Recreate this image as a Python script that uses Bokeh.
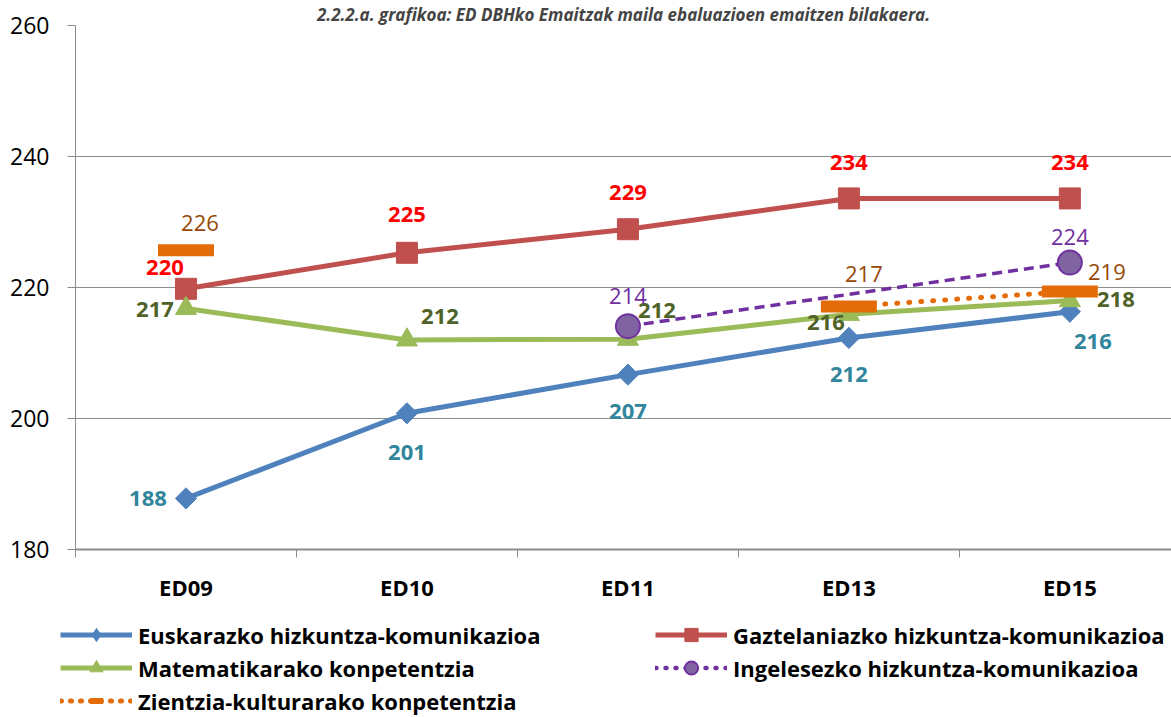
import math
from bokeh.plotting import figure
from bokeh.layouts import column
from bokeh.models import Range1d, FixedTicker, Legend, LegendItem, ColumnDataSource
from bokeh.core.properties import value
from bokeh.embed import file_html
from bokeh.resources import INLINE

nan = float("nan")

# ---- data ----
categories = ["ED09", "ED10", "ED11", "ED13", "ED15"]
euskara = [187.8, 200.8, 206.7, 212.3, 216.3]
gaztelania = [219.8, 225.3, 228.9, 233.6, 233.6]
matematika = [216.8, 212.0, 212.1, 215.9, 218.0]
ingelesa = [nan, nan, 214.1, nan, 223.8]
zientzia = [225.7, nan, nan, 217.1, 219.4]
y_ticks = [180, 200, 220, 240, 260]

title_text = "2.2.2.a. grafikoa: ED DBHko Emaitzak maila ebaluazioen emaitzen bilakaera."
names = ["Euskarazko hizkuntza-komunikazioa", "Gaztelaniazko hizkuntza-komunikazioa",
         "Matematikarako konpetentzia", "Ingelesezko hizkuntza-komunikazioa",
         "Zientzia-kulturarako konpetentzia"]

FONT = "Open Sans"
xs = list(range(len(categories)))

# series styles
STY = {
    "eu": dict(line=dict(line_color="#4F81BD", line_width=5),
               mark=dict(marker="square", angle=math.pi / 4, size=15,
                         fill_color="#4F81BD", line_color="#4F81BD")),
    "ga": dict(line=dict(line_color="#C0504D", line_width=5),
               mark=dict(marker="square", size=21, fill_color="#C0504D", line_color="#C0504D")),
    "ma": dict(line=dict(line_color="#9BBB59", line_width=5),
               mark=dict(marker="triangle", size=21, fill_color="#9BBB59", line_color="#9BBB59")),
    "in": dict(line=dict(line_color="#7030A0", line_width=3.5, line_dash="10 6"),
               mark=dict(marker="circle", size=24, fill_color="#8064A2",
                         line_color="#7030A0", line_width=2)),
    "zi": dict(line=dict(line_color="#E36C09", line_width=5, line_dash="1 11", line_cap="round"),
               mark=dict(marker="dash", size=56, line_width=12, line_color="#E36C09",
                         line_cap="butt")),
}
# legend sample styles (as in the reference legend)
LSTY = {
    "eu": dict(line=STY["eu"]["line"],
               mark=dict(marker="diamond", size=21, fill_color="#4F81BD", line_color="#4F81BD")),
    "ga": dict(line=STY["ga"]["line"], mark=dict(STY["ga"]["mark"])),
    "ma": dict(line=STY["ma"]["line"], mark=dict(STY["ma"]["mark"])),
    "in": dict(line=dict(line_color="#7030A0", line_width=4.5, line_dash="1 9", line_cap="round"),
               mark=dict(STY["in"]["mark"])),
    "zi": dict(line=dict(line_color="#E36C09", line_width=5, line_dash="1 9", line_cap="round"),
               mark=dict(marker="dash", size=26, line_width=6, line_color="#E36C09",
                         line_cap="butt")),
}

p = figure(width=1171, height=604, output_backend="svg", toolbar_location=None,
           x_range=Range1d(-0.5, 4.46), y_range=Range1d(180, 260),
           min_border_left=75, min_border_right=0, min_border_top=24, min_border_bottom=52)
p.outline_line_color = None
p.background_fill_color = "white"
p.border_fill_color = "white"
p.frame_align = False

p.title.text = title_text
p.title.align = "center"
p.title.text_font = FONT
p.title.text_font_size = "17px"
p.title.text_font_style = "bold italic"
p.title.standoff = 0
p.title.offset = 0

# axes
p.xgrid.visible = False
p.ygrid.ticker = FixedTicker(ticks=y_ticks)
p.ygrid.grid_line_color = "#8c8c8c"
p.ygrid.grid_line_width = 1

ya = p.yaxis[0]
ya.ticker = FixedTicker(ticks=y_ticks)
ya.axis_line_color = "#8c8c8c"
ya.major_tick_line_color = "#8c8c8c"
ya.major_tick_out = 8
ya.major_tick_in = 0
ya.minor_tick_line_color = None
ya.major_label_standoff = 18
ya.major_label_text_font = FONT
ya.major_label_text_font_size = "23px"
ya.major_label_text_color = "black"

xa = p.xaxis[0]
xa.ticker = FixedTicker(ticks=xs, minor_ticks=[i - 0.5 for i in range(len(categories) + 1)])
xa.major_label_overrides = {i: c for i, c in enumerate(categories)}
xa.axis_line_color = "#8c8c8c"
xa.axis_line_width = 2
xa.major_tick_line_color = None
xa.major_tick_out = 8
xa.minor_tick_line_color = "#8c8c8c"
xa.minor_tick_out = 8
xa.minor_tick_in = 0
xa.major_label_standoff = 14
xa.major_label_text_font = FONT
xa.major_label_text_font_size = "22px"
xa.major_label_text_font_style = "bold"
xa.major_label_text_color = "black"


def valid(vals):
    return [(x, v) for x, v in zip(xs, vals) if not math.isnan(v)]


p.line(xs, euskara, **STY["eu"]["line"])
p.scatter(xs, euskara, **STY["eu"]["mark"])
p.line(xs, gaztelania, **STY["ga"]["line"])
p.scatter(xs, gaztelania, **STY["ga"]["mark"])
p.line(xs, matematika, **STY["ma"]["line"])
p.scatter(xs, matematika, **STY["ma"]["mark"])
ing = valid(ingelesa)
p.line([a for a, _ in ing], [b for _, b in ing], **STY["in"]["line"])
p.scatter([a for a, _ in ing], [b for _, b in ing], **STY["in"]["mark"])
p.line(xs, zientzia, **STY["zi"]["line"])
p.scatter(xs, zientzia, **STY["zi"]["mark"])

# data labels
label_specs = [
    (euskara, "#31859C", "bold", [-38, 0, 0, 0, 23], [0, 39, 37, 37, 30]),
    (gaztelania, "#FF0000", "bold", [-21, 0, 0, 0, 0], [-21, -38, -37, -36, -36]),
    (matematika, "#4F6228", "bold", [-31, 33, 29, -23, 46], [1, -23, -29, 8, -1]),
    (ingelesa, "#7030A0", "normal", [0, 0, 0, 0, 0], [0, 0, -30, 0, -26]),
    (zientzia, "#984807", "normal", [14, 0, 0, 15, 37], [-27, 0, 0, -32, -19]),
]
for vals, col, style, dxs, dys in label_specs:
    rows = [(x, v, dxs[x], dys[x]) for x, v in zip(xs, vals) if not math.isnan(v)]
    src = ColumnDataSource(dict(x=[r[0] for r in rows], y=[r[1] for r in rows],
                                t=[str(int(round(r[1]))) for r in rows],
                                dx=[r[2] for r in rows], dy=[r[3] for r in rows]))
    p.text(x="x", y="y", text="t", x_offset="dx", y_offset="dy", source=src,
           text_align="center", text_baseline="middle", text_color=col,
           text_font=value(FONT), text_font_size="22px", text_font_style=style)

# ---- legend figure (proxy renderers with no data) ----
lf = figure(width=1171, height=113, output_backend="svg", toolbar_location=None,
            x_axis_location=None, y_axis_location=None,
            x_range=Range1d(0, 1), y_range=Range1d(0, 1),
            min_border_left=0, min_border_right=0, min_border_top=0, min_border_bottom=0)
lf.outline_line_color = None
lf.xgrid.visible = False
lf.ygrid.visible = False
lf.frame_align = False

items = []
for key, name in zip(["eu", "ga", "ma", "in", "zi"], names):
    rl = lf.line([nan], [nan], **LSTY[key]["line"])
    rm = lf.scatter([nan], [nan], **LSTY[key]["mark"])
    items.append(LegendItem(label=name, renderers=[rl, rm]))

legend = Legend(items=items, location=(60, 0), orientation="horizontal", ncols=2)
legend.padding = 0
legend.margin = 0
legend.spacing = 0
legend.glyph_width = 72
legend.glyph_height = 33
legend.label_height = 33
legend.label_width = 517
legend.label_standoff = 6
legend.border_line_color = None
legend.background_fill_alpha = 0
legend.label_text_font = FONT
legend.label_text_font_size = "22px"
legend.label_text_font_style = "bold"
legend.label_text_color = "black"
lf.add_layout(legend, "center")

open("out.html", "w").write(file_html(column(p, lf, spacing=0), INLINE))
